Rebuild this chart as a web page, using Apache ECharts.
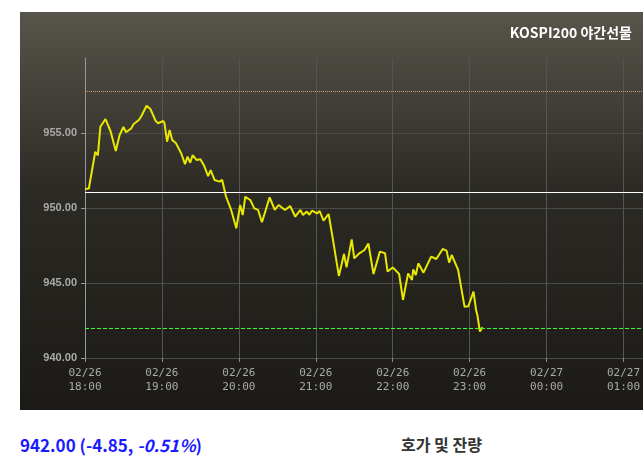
<!DOCTYPE html>
<html>
<head>
<meta charset="utf-8">
<script src="https://cdn.jsdelivr.net/npm/echarts@6/dist/echarts.min.js"></script>
<style>
body{margin:0;width:643px;height:464px;overflow:hidden;background:#fff;position:relative;font-family:"Noto Sans CJK KR","Noto Sans",sans-serif;}
#panel{position:absolute;left:20px;top:12px;width:700px;height:398px;background:linear-gradient(#57544b 0%,#2c2a24 45%,#1c1a16 100%);}
#container{position:absolute;left:20px;top:12px;width:700px;height:398px;}
#price{position:absolute;left:20px;top:432px;font-size:17px;font-weight:bold;color:#1a1aff;}
#hoga{position:absolute;left:401px;top:432px;font-size:16px;font-weight:bold;color:#333;}
</style>
</head>
<body>
<div id="panel"></div>
<div id="container"></div>
<div id="price">942.00 (-4.85, <i>-0.51%</i>)</div>
<div id="hoga">호가 및 잔량</div>
<script>
// minutes after 02/26 18:00
var minutes = [0,3,8,10,12,16,20,24,27,30,32,36,38,42,44,48,51,55,57,61,62,64,66,68,71,75,78,80,82,84,87,90,93,96,98,101,105,107,110,114,118,121,123,125,129,132,135,138,144,148,151,156,160,164,168,170,173,175,177,181,183,186,190,193,198,202,204,208,210,214,218,221,222,225,230,234,236,240,245,248,252,255,256,258,260,264,270,274,279,282,284,286,291,296,299,303,305,306,308,310];
var prices = [951.27,951.3,953.75,953.5,955.42,955.93,955.1,953.8,954.87,955.4,955.05,955.3,955.6,955.87,956.13,956.82,956.6,955.82,955.65,955.8,955.65,954.42,955.2,954.53,954.31,953.65,952.93,953.42,953.02,953.53,953.2,953.25,952.8,952.13,952.53,951.87,951.76,951.87,950.75,949.87,948.65,950.2,949.53,950.75,950.53,949.98,949.87,949.05,950.71,949.87,950.2,949.87,950.13,949.42,949.87,949.53,949.76,949.55,949.82,949.64,949.8,949.16,949.6,948.09,945.47,946.93,946.04,947.91,946.64,946.98,947.2,947.64,947.53,945.6,947.09,946.98,945.76,946.04,945.6,943.87,945.64,945.2,945.91,945.53,946.31,945.69,946.76,946.6,947.27,947.16,946.36,946.87,945.87,943.42,943.45,944.42,943.2,942.87,941.76,942.05];
var basePrice = 951.07, highRef = 957.8, lastPrice = 942.0;
var yTicks = [940, 945, 950, 955, 960];

var start = new Date(2024, 1, 26, 18, 0).getTime();
var seriesData = minutes.map(function (m, i) { return [start + m * 60000, prices[i]]; });

function pad(n) { return (n < 10 ? '0' : '') + n; }

var myChart = echarts.init(document.getElementById('container'));
var option = {
    animation: false,
    title: {
        text: 'KOSPI200 야간선물',
        right: 83,
        top: 9,
        textStyle: { color: '#fff', fontSize: 14, fontWeight: 'bold', fontFamily: 'Noto Sans CJK KR' }
    },
    grid: { left: 65, top: 46, right: 19, bottom: 52 },
    xAxis: {
        type: 'time',
        min: start,
        max: start + 8 * 3600000,
        interval: 3600000,
        axisLine: { show: false },
        axisTick: { show: true, length: 4, lineStyle: { color: '#888' } },
        splitLine: { show: true, lineStyle: { color: '#555' } },
        axisLabel: {
            color: '#aaa',
            fontSize: 11,
            fontFamily: 'DejaVu Sans Mono',
            lineHeight: 14,
            formatter: function (v) {
                var d = new Date(v);
                return pad(d.getMonth() + 1) + '/' + pad(d.getDate()) + '\n' + pad(d.getHours()) + ':' + pad(d.getMinutes());
            }
        }
    },
    yAxis: {
        type: 'value',
        min: yTicks[0],
        max: yTicks[yTicks.length - 1],
        interval: 5,
        axisLine: { show: true, lineStyle: { color: '#999' } },
        axisTick: { show: true, length: 4, lineStyle: { color: '#999' } },
        splitLine: { show: true, lineStyle: { color: '#4a4a4a' } },
        axisLabel: {
            color: '#aaa',
            fontSize: 11,
            fontWeight: 'bold',
            showMaxLabel: false,
            formatter: function (v) { return v.toFixed(2); }
        }
    },
    series: [{
        type: 'line',
        data: seriesData,
        showSymbol: false,
        lineStyle: { color: '#e8e800', width: 2 },
        markLine: {
            silent: true,
            symbol: 'none',
            label: { show: false },
            data: [
                { yAxis: basePrice, lineStyle: { color: '#ffffff', type: 'solid', width: 1 } },
                { yAxis: highRef, lineStyle: { color: '#c9a46a', type: 'dotted', width: 1 } },
                { yAxis: lastPrice, lineStyle: { color: '#33ff33', type: 'dashed', width: 1 } }
            ]
        }
    }]
};
myChart.setOption(option);
</script>
</body>
</html>
